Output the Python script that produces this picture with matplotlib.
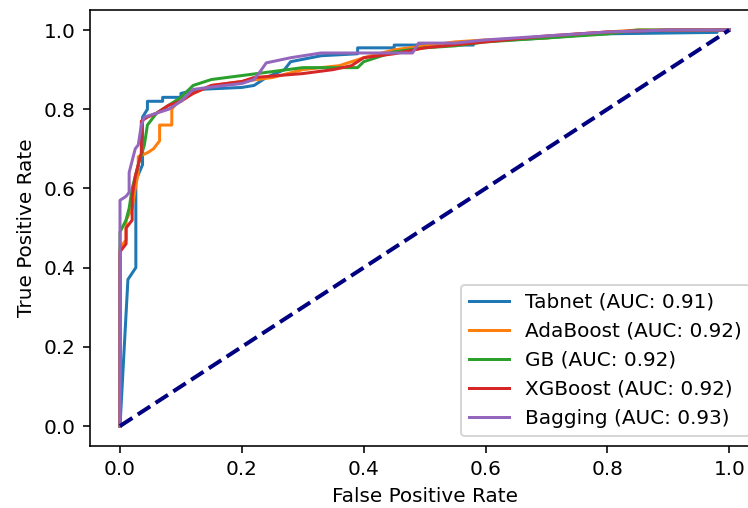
import matplotlib
matplotlib.use("Agg")
import matplotlib.pyplot as plt

models = ["Tabnet", "AdaBoost", "GB", "XGBoost", "Bagging"]
aucs = [0.91, 0.92, 0.92, 0.92, 0.93]

fpr_tabnet = [0, 0.013, 0.026, 0.026, 0.037, 0.037, 0.045, 0.045, 0.07, 0.07, 0.10, 0.10, 0.13, 0.20, 0.22, 0.24, 0.27, 0.28, 0.33, 0.39, 0.39, 0.45, 0.45, 0.58, 0.58, 0.70, 0.78, 0.98, 0.98, 1.0]
tpr_tabnet = [0, 0.37, 0.40, 0.62, 0.66, 0.78, 0.80, 0.82, 0.82, 0.83, 0.83, 0.84, 0.85, 0.855, 0.86, 0.88, 0.90, 0.92, 0.935, 0.94, 0.955, 0.955, 0.962, 0.962, 0.97, 0.98, 0.99, 0.994, 1.0, 1.0]

fpr_ada = [0, 0, 0.01, 0.01, 0.02, 0.025, 0.03, 0.03, 0.045, 0.055, 0.065, 0.065, 0.085, 0.085, 0.095, 0.12, 0.15, 0.20, 0.25, 0.30, 0.36, 0.40, 0.45, 0.50, 0.55, 0.60, 0.70, 0.75, 0.80, 0.85, 1.0]
tpr_ada = [0, 0.45, 0.47, 0.52, 0.55, 0.60, 0.64, 0.68, 0.69, 0.70, 0.72, 0.76, 0.76, 0.80, 0.82, 0.84, 0.86, 0.87, 0.88, 0.90, 0.91, 0.93, 0.95, 0.96, 0.97, 0.975, 0.98, 0.99, 0.995, 1.0, 1.0]

fpr_gb = [0, 0, 0.01, 0.015, 0.02, 0.03, 0.04, 0.045, 0.06, 0.08, 0.10, 0.12, 0.15, 0.20, 0.25, 0.30, 0.39, 0.40, 0.42, 0.45, 0.50, 0.55, 0.60, 0.70, 0.80, 0.85, 1.0]
tpr_gb = [0, 0.49, 0.52, 0.55, 0.60, 0.66, 0.71, 0.76, 0.79, 0.81, 0.83, 0.86, 0.875, 0.885, 0.895, 0.905, 0.905, 0.92, 0.93, 0.945, 0.955, 0.96, 0.97, 0.98, 0.99, 1.0, 1.0]

fpr_xgb = [0, 0, 0.01, 0.01, 0.02, 0.02, 0.025, 0.03, 0.035, 0.035, 0.045, 0.06, 0.08, 0.10, 0.12, 0.15, 0.20, 0.22, 0.30, 0.35, 0.38, 0.40, 0.45, 0.50, 0.60, 0.70, 0.80, 0.90, 1.0]
tpr_xgb = [0, 0.44, 0.46, 0.50, 0.52, 0.58, 0.63, 0.66, 0.69, 0.77, 0.78, 0.79, 0.81, 0.82, 0.84, 0.86, 0.87, 0.88, 0.89, 0.90, 0.91, 0.93, 0.94, 0.955, 0.97, 0.985, 0.995, 1.0, 1.0]

fpr_bag = [0, 0, 0.01, 0.015, 0.015, 0.02, 0.025, 0.03, 0.035, 0.04, 0.06, 0.08, 0.10, 0.12, 0.15, 0.20, 0.22, 0.23, 0.24, 0.28, 0.33, 0.40, 0.48, 0.49, 0.55, 0.60, 0.70, 0.80, 0.90, 1.0]
tpr_bag = [0, 0.57, 0.58, 0.59, 0.64, 0.67, 0.70, 0.71, 0.76, 0.78, 0.79, 0.80, 0.82, 0.85, 0.856, 0.865, 0.875, 0.895, 0.917, 0.93, 0.942, 0.942, 0.942, 0.967, 0.967, 0.975, 0.985, 0.995, 1.0, 1.0]

fprs = [fpr_tabnet, fpr_ada, fpr_gb, fpr_xgb, fpr_bag]
tprs = [tpr_tabnet, tpr_ada, tpr_gb, tpr_xgb, tpr_bag]

diag = [0, 1]

DPI = 144
fig = plt.figure(figsize=(748 / DPI, 508 / DPI), dpi=DPI)
ax = fig.add_axes([0.1197, 0.1224, 0.896, 0.8575])

for name, auc, f, t in zip(models, aucs, fprs, tprs):
    ax.plot(f, t, label=f"{name} (AUC: {auc:.2f})")

ax.plot(diag, diag, color="navy", lw=2, linestyle="--")
ax.set_xlabel("False Positive Rate")
ax.set_ylabel("True Positive Rate")
ax.legend(loc="lower right")

fig.savefig("out.png", dpi=DPI)
